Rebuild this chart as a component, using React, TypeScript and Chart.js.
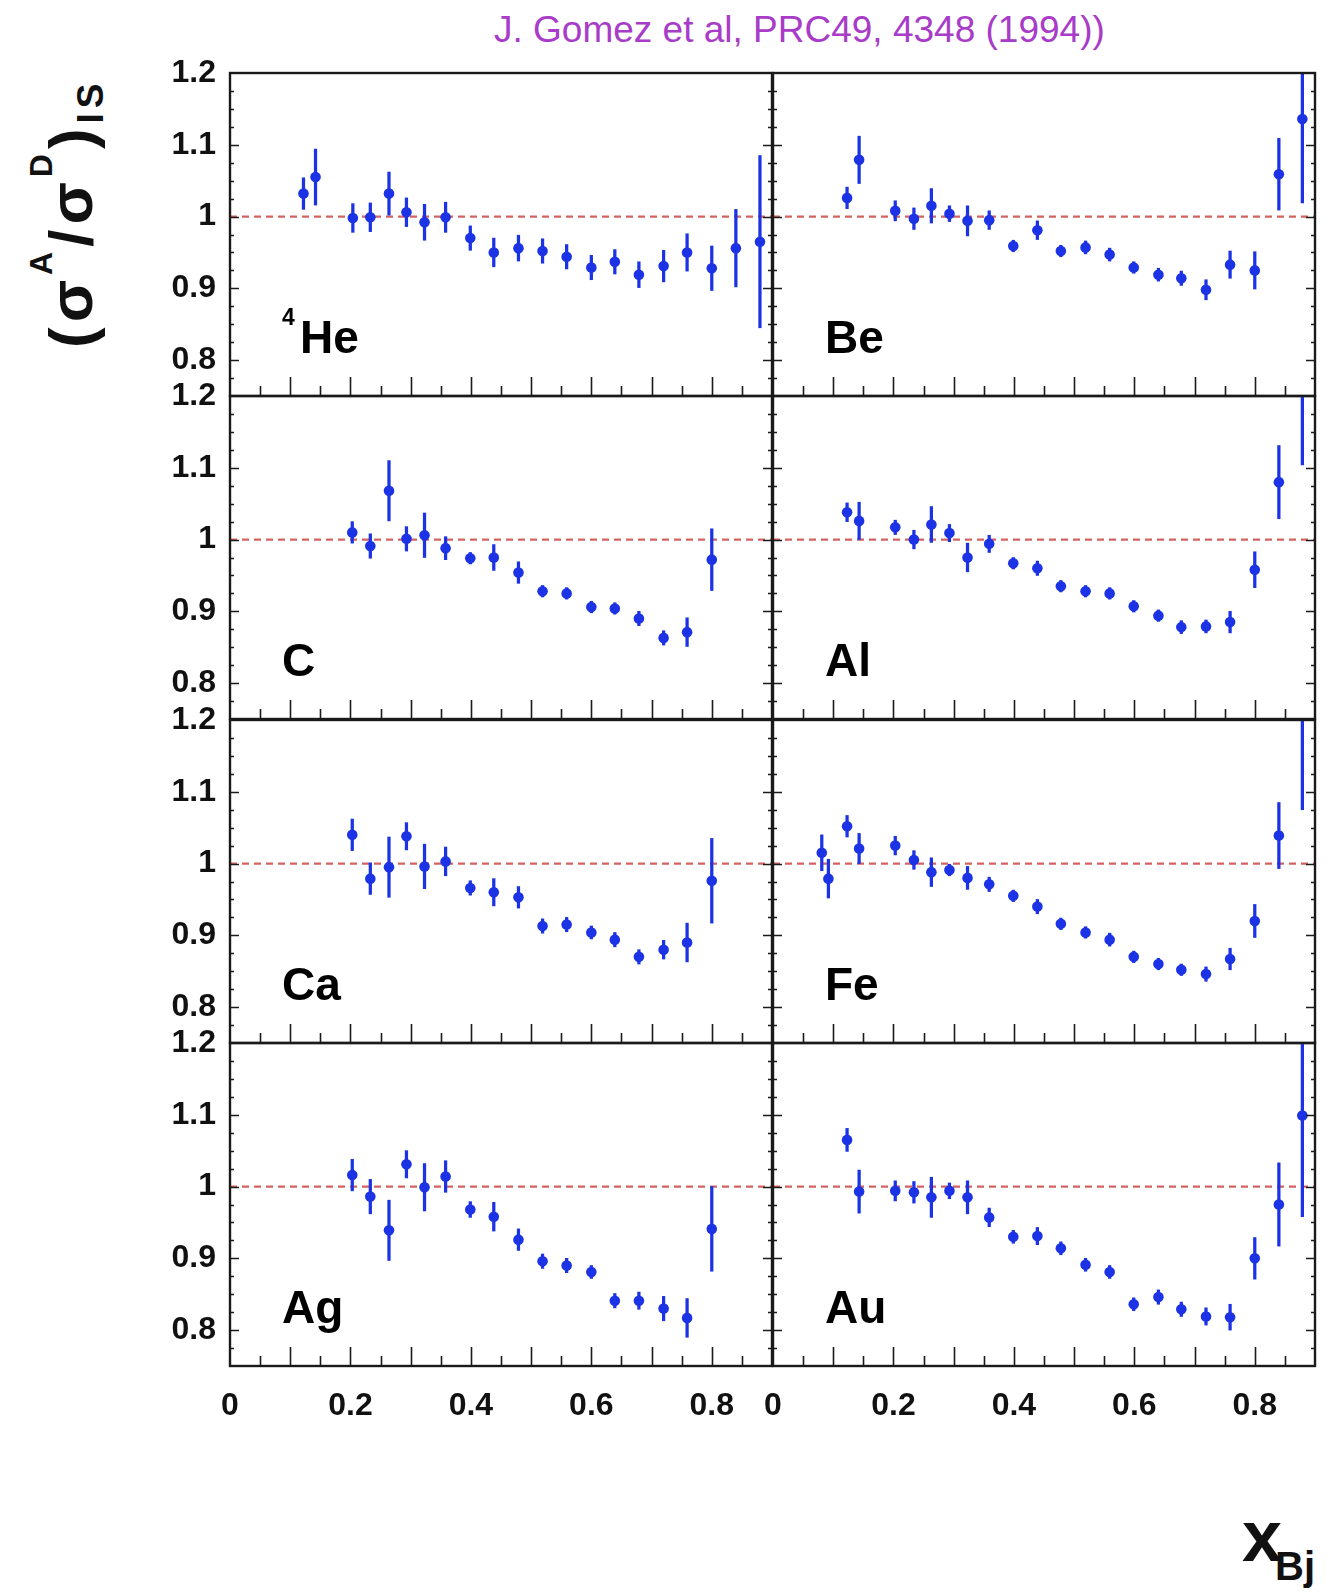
import React, { useEffect, useRef } from "react";
import { Chart, registerables } from "chart.js";

Chart.register(...registerables);

// ---------------- data ----------------
const HE_X = [0.122, 0.142, 0.204, 0.233, 0.264, 0.293, 0.323, 0.358, 0.399, 0.438, 0.479, 0.519, 0.559, 0.6, 0.639, 0.679, 0.72, 0.759, 0.8, 0.84, 0.88];
const HE_Y = [1.032, 1.055, 0.998, 0.999, 1.032, 1.006, 0.992, 0.999, 0.97, 0.95, 0.956, 0.952, 0.944, 0.929, 0.937, 0.919, 0.931, 0.95, 0.928, 0.956, 0.965];
const HE_ERR = [0.022, 0.039, 0.02, 0.02, 0.03, 0.02, 0.025, 0.021, 0.017, 0.02, 0.018, 0.017, 0.017, 0.017, 0.017, 0.018, 0.022, 0.026, 0.031, 0.054, 0.12];

const BE_X = [0.123, 0.143, 0.203, 0.234, 0.263, 0.293, 0.323, 0.359, 0.399, 0.439, 0.478, 0.519, 0.559, 0.599, 0.64, 0.678, 0.719, 0.759, 0.8, 0.84, 0.879];
const BE_Y = [1.026, 1.079, 1.008, 0.997, 1.015, 1.004, 0.994, 0.995, 0.959, 0.981, 0.952, 0.957, 0.947, 0.929, 0.919, 0.914, 0.898, 0.933, 0.925, 1.059, 1.136];
const BE_ERR = [0.015, 0.033, 0.014, 0.015, 0.024, 0.011, 0.021, 0.013, 0.008, 0.013, 0.008, 0.009, 0.009, 0.008, 0.009, 0.01, 0.014, 0.019, 0.026, 0.05, 0.117];

const C_X = [0.203, 0.233, 0.264, 0.293, 0.323, 0.358, 0.399, 0.438, 0.479, 0.519, 0.559, 0.6, 0.639, 0.679, 0.72, 0.759, 0.8];
const C_Y = [1.01, 0.991, 1.068, 1.001, 1.006, 0.988, 0.974, 0.975, 0.954, 0.928, 0.925, 0.906, 0.904, 0.89, 0.863, 0.871, 0.972];
const C_ERR = [0.015, 0.017, 0.042, 0.017, 0.031, 0.016, 0.008, 0.018, 0.015, 0.008, 0.008, 0.008, 0.008, 0.01, 0.01, 0.02, 0.043];

const AL_X = [0.123, 0.143, 0.203, 0.234, 0.263, 0.293, 0.323, 0.359, 0.399, 0.439, 0.478, 0.519, 0.559, 0.599, 0.64, 0.678, 0.719, 0.759, 0.8, 0.84, 0.879];
const AL_Y = [1.038, 1.026, 1.017, 1.0, 1.021, 1.009, 0.975, 0.994, 0.967, 0.96, 0.935, 0.928, 0.925, 0.907, 0.894, 0.878, 0.879, 0.885, 0.958, 1.08, 1.25];
const AL_ERR = [0.013, 0.026, 0.01, 0.013, 0.025, 0.012, 0.02, 0.012, 0.008, 0.01, 0.008, 0.008, 0.008, 0.008, 0.008, 0.009, 0.009, 0.015, 0.025, 0.051, 0.146];

const CA_X = [0.203, 0.233, 0.264, 0.293, 0.323, 0.358, 0.399, 0.438, 0.479, 0.519, 0.559, 0.6, 0.639, 0.679, 0.72, 0.759, 0.8];
const CA_Y = [1.04, 0.979, 0.995, 1.038, 0.996, 1.003, 0.966, 0.96, 0.953, 0.913, 0.915, 0.904, 0.894, 0.87, 0.88, 0.89, 0.976];
const CA_ERR = [0.022, 0.022, 0.042, 0.019, 0.031, 0.02, 0.01, 0.019, 0.015, 0.01, 0.01, 0.009, 0.01, 0.01, 0.013, 0.027, 0.059];

const FE_X = [0.081, 0.092, 0.123, 0.143, 0.203, 0.234, 0.263, 0.293, 0.323, 0.359, 0.399, 0.439, 0.478, 0.519, 0.559, 0.599, 0.64, 0.678, 0.719, 0.759, 0.8, 0.84, 0.879];
const FE_Y = [1.015, 0.979, 1.052, 1.021, 1.025, 1.005, 0.988, 0.991, 0.98, 0.971, 0.955, 0.94, 0.916, 0.904, 0.894, 0.87, 0.86, 0.852, 0.846, 0.867, 0.92, 1.039, 1.25];
const FE_ERR = [0.025, 0.027, 0.015, 0.021, 0.013, 0.013, 0.02, 0.008, 0.016, 0.01, 0.008, 0.01, 0.008, 0.008, 0.009, 0.008, 0.008, 0.008, 0.01, 0.015, 0.023, 0.046, 0.175];

const AG_X = [0.203, 0.233, 0.264, 0.293, 0.323, 0.358, 0.399, 0.438, 0.479, 0.519, 0.559, 0.6, 0.639, 0.679, 0.72, 0.759, 0.8];
const AG_Y = [1.016, 0.986, 0.939, 1.031, 0.999, 1.014, 0.968, 0.958, 0.926, 0.896, 0.89, 0.881, 0.841, 0.841, 0.83, 0.817, 0.941];
const AG_ERR = [0.022, 0.024, 0.042, 0.019, 0.033, 0.022, 0.011, 0.02, 0.015, 0.01, 0.01, 0.009, 0.01, 0.012, 0.017, 0.027, 0.059];

const AU_X = [0.123, 0.143, 0.203, 0.234, 0.263, 0.293, 0.323, 0.359, 0.399, 0.439, 0.478, 0.519, 0.559, 0.599, 0.64, 0.678, 0.719, 0.759, 0.8, 0.84, 0.879];
const AU_Y = [1.065, 0.993, 0.994, 0.992, 0.985, 0.994, 0.985, 0.957, 0.93, 0.931, 0.914, 0.891, 0.881, 0.836, 0.846, 0.829, 0.819, 0.818, 0.9, 0.975, 1.099];
const AU_ERR = [0.016, 0.03, 0.014, 0.015, 0.028, 0.011, 0.023, 0.013, 0.009, 0.012, 0.009, 0.009, 0.009, 0.009, 0.01, 0.01, 0.012, 0.018, 0.029, 0.058, 0.141];

const X_TICK_VALUES = [0, 0.2, 0.4, 0.6, 0.8];
const X_TICK_LABELS = ["0", "0.2", "0.4", "0.6", "0.8"];
const Y_TICK_VALUES = [0.8, 0.9, 1.0, 1.1, 1.2];
const Y_TICK_LABELS = ["0.8", "0.9", "1", "1.1", "1.2"];
const X_RANGE = [0, 0.9];
const Y_RANGE = [0.75, 1.2];
const REF_LINE = [1, 1];

const TITLE = "J. Gomez et al, PRC49, 4348 (1994))";

// ---------------- layout / style ----------------
const PANEL_LEFTS = [230, 773];
const PANEL_TOPS = [73, 396, 720, 1043];
const PANEL_W = 542;
const PANEL_H = 323;
const PAD_L = 80;
const PAD_R = 12;
const PAD_T = 40;
const PAD_B = 70;
const Y_AXIS_W = 70;
const X_AXIS_H = 60;
const BLUE = "#1b33e4";
const FONT = "'Liberation Sans', Arial, Helvetica, sans-serif";

const PANELS = [
  { label: "He", sup: "4", xs: HE_X, ys: HE_Y, errs: HE_ERR, row: 0, col: 0 },
  { label: "Be", sup: "", xs: BE_X, ys: BE_Y, errs: BE_ERR, row: 0, col: 1 },
  { label: "C", sup: "", xs: C_X, ys: C_Y, errs: C_ERR, row: 1, col: 0 },
  { label: "Al", sup: "", xs: AL_X, ys: AL_Y, errs: AL_ERR, row: 1, col: 1 },
  { label: "Ca", sup: "", xs: CA_X, ys: CA_Y, errs: CA_ERR, row: 2, col: 0 },
  { label: "Fe", sup: "", xs: FE_X, ys: FE_Y, errs: FE_ERR, row: 2, col: 1 },
  { label: "Ag", sup: "", xs: AG_X, ys: AG_Y, errs: AG_ERR, row: 3, col: 0 },
  { label: "Au", sup: "", xs: AU_X, ys: AU_Y, errs: AU_ERR, row: 3, col: 1 },
];

// inward tick marks, frame and element label
const frameTicksPlugin = {
  id: "frameTicks",
  afterDraw(chart: any, _args: any, opts: any) {
    const { ctx, chartArea: a } = chart;
    const xs = chart.scales.x;
    const ys = chart.scales.y;
    ctx.save();
    ctx.strokeStyle = "#1a1a1a";
    ctx.lineWidth = 1.6;
    ctx.beginPath();
    for (let k = 1; k * 0.05 < X_RANGE[1] - 1e-9; k++) {
      const px = Math.round(xs.getPixelForValue(k * 0.05)) + 0.5;
      const len = k % 2 === 0 ? 19 : 10;
      ctx.moveTo(px, a.bottom);
      ctx.lineTo(px, a.bottom - len);
    }
    for (let k = 1; Y_RANGE[0] + k * 0.025 < Y_RANGE[1] - 1e-9; k++) {
      const py = Math.round(ys.getPixelForValue(Y_RANGE[0] + k * 0.025)) + 0.5;
      const len = (k - 2) % 4 === 0 ? 9 : 4;
      ctx.moveTo(a.left, py);
      ctx.lineTo(a.left + len, py);
      ctx.moveTo(a.right, py);
      ctx.lineTo(a.right - len, py);
    }
    ctx.stroke();
    ctx.lineWidth = 2.4;
    ctx.strokeRect(a.left, a.top, a.right - a.left, a.bottom - a.top);

    ctx.fillStyle = "#000";
    ctx.textBaseline = "alphabetic";
    ctx.textAlign = "left";
    let x = a.left + 52;
    const base = a.top + 280;
    if (opts && opts.sup) {
      ctx.font = `bold 23px ${FONT}`;
      ctx.fillText(opts.sup, x, base - 28);
      x += 18;
    }
    ctx.font = `bold 46px ${FONT}`;
    ctx.fillText(opts ? opts.label : "", x, base);
    ctx.restore();
  },
};

function Panel(props: any) {
  const { label, sup, xs, ys, errs, row, col } = props;
  const ref = useRef<HTMLCanvasElement | null>(null);
  const w = PANEL_W + PAD_L + PAD_R;
  const h = PANEL_H + PAD_T + PAD_B;
  const showY = col === 0;
  const showX = row === 3;

  useEffect(() => {
    const canvas = ref.current;
    if (!canvas) return;
    const tickFont = { family: FONT, size: 32, weight: "bold" as const, lineHeight: 1.2 };
    const xScale: any = {
      type: "linear",
      min: X_RANGE[0],
      max: X_RANGE[1],
      offset: false,
      display: showX,
      position: "bottom",
      grid: { display: false, drawTicks: false, offset: false },
      border: { display: false },
      afterBuildTicks: (scale: any) => {
        scale.ticks = X_TICK_VALUES.map((v) => ({ value: v }));
      },
      ticks: {
        autoSkip: false,
        maxRotation: 0,
        minRotation: 0,
        padding: 21,
        color: "#111",
        font: tickFont,
        callback: (value: any) => X_TICK_LABELS[X_TICK_VALUES.findIndex((v) => Math.abs(v - Number(value)) < 1e-9)] ?? "",
      },
    };
    if (showX) {
      xScale.afterFit = (scale: any) => {
        scale.height = X_AXIS_H;
      };
    }
    const yScale: any = {
      type: "linear",
      min: Y_RANGE[0],
      max: Y_RANGE[1],
      display: showY,
      position: "left",
      grid: { display: false, drawTicks: false },
      border: { display: false },
      afterBuildTicks: (scale: any) => {
        scale.ticks = Y_TICK_VALUES.map((v) => ({ value: v }));
      },
      ticks: {
        autoSkip: false,
        padding: 14,
        color: "#111",
        font: tickFont,
        callback: (value: any) => Y_TICK_LABELS[Y_TICK_VALUES.findIndex((v) => Math.abs(v - Number(value)) < 1e-9)] ?? "",
      },
    };
    if (showY) {
      yScale.afterFit = (scale: any) => {
        scale.width = Y_AXIS_W;
      };
    }

    const chart = new Chart(canvas, {
      type: "scatter",
      data: {
        datasets: [
          {
            type: "line",
            data: [
              { x: X_RANGE[0], y: REF_LINE[0] },
              { x: X_RANGE[1], y: REF_LINE[1] },
            ],
            borderColor: "#d46262",
            borderWidth: 2.2,
            borderDash: [7, 5],
            pointRadius: 0,
            fill: false,
            order: 3,
          } as any,
          {
            type: "bar",
            data: xs.map((x: number, i: number) => ({ x, y: [ys[i] - errs[i], ys[i] + errs[i]] })),
            backgroundColor: BLUE,
            borderWidth: 0,
            barThickness: 2.6,
            order: 2,
          } as any,
          {
            type: "scatter",
            data: xs.map((x: number, i: number) => ({ x, y: ys[i] })),
            pointRadius: 5.3,
            pointBackgroundColor: BLUE,
            pointBorderColor: BLUE,
            pointBorderWidth: 0,
            order: 1,
          } as any,
        ],
      },
      options: {
        responsive: false,
        animation: false,
        devicePixelRatio: 1,
        events: [],
        layout: {
          padding: {
            left: showY ? PAD_L - Y_AXIS_W : PAD_L,
            right: PAD_R,
            top: PAD_T,
            bottom: showX ? PAD_B - X_AXIS_H : PAD_B,
          },
        },
        plugins: {
          legend: { display: false },
          tooltip: { enabled: false },
          title: { display: false },
          frameTicks: { label, sup },
        } as any,
        scales: { x: xScale, y: yScale } as any,
      },
      plugins: [frameTicksPlugin as any],
    } as any);
    return () => chart.destroy();
  }, []);

  return (
    <canvas
      ref={ref}
      width={w}
      height={h}
      style={{
        position: "absolute",
        left: PANEL_LEFTS[col] - PAD_L,
        top: PANEL_TOPS[row] - PAD_T,
        width: w,
        height: h,
        display: "block",
      }}
    />
  );
}

export default function App() {
  return (
    <div
      style={{
        position: "absolute",
        left: 0,
        top: 0,
        width: 1328,
        height: 1594,
        background: "#fff",
        overflow: "hidden",
        fontFamily: FONT,
      }}
    >
      <div
        style={{
          position: "absolute",
          left: 494,
          top: 11,
          font: `37px ${FONT}`,
          lineHeight: "37px",
          color: "#a83cc8",
          whiteSpace: "nowrap",
        }}
      >
        {TITLE}
      </div>

      <div
        style={{
          position: "absolute",
          left: 40,
          top: 348,
          transformOrigin: "0 0",
          transform: "rotate(-90deg)",
          font: `bold 62px ${FONT}`,
          lineHeight: "62px",
          letterSpacing: "5px",
          whiteSpace: "nowrap",
          color: "#111",
        }}
      >
        (σ
        <span style={{ fontSize: 32, position: "relative", top: -40 }}>A</span>
        /σ
        <span style={{ fontSize: 32, position: "relative", top: -40 }}>D</span>)
        <span style={{ fontSize: 37, position: "relative", top: 11 }}>IS</span>
      </div>

      {PANELS.map((p) => (
        <Panel key={p.label} {...p} />
      ))}

      <div
        style={{
          position: "absolute",
          left: 1242,
          top: 1500,
          font: `bold 72px ${FONT}`,
          lineHeight: "72px",
          whiteSpace: "nowrap",
          color: "#111",
        }}
      >
        x
        <span style={{ fontSize: 40, position: "relative", top: 19, marginLeft: -7 }}>Bj</span>
      </div>
    </div>
  );
}
